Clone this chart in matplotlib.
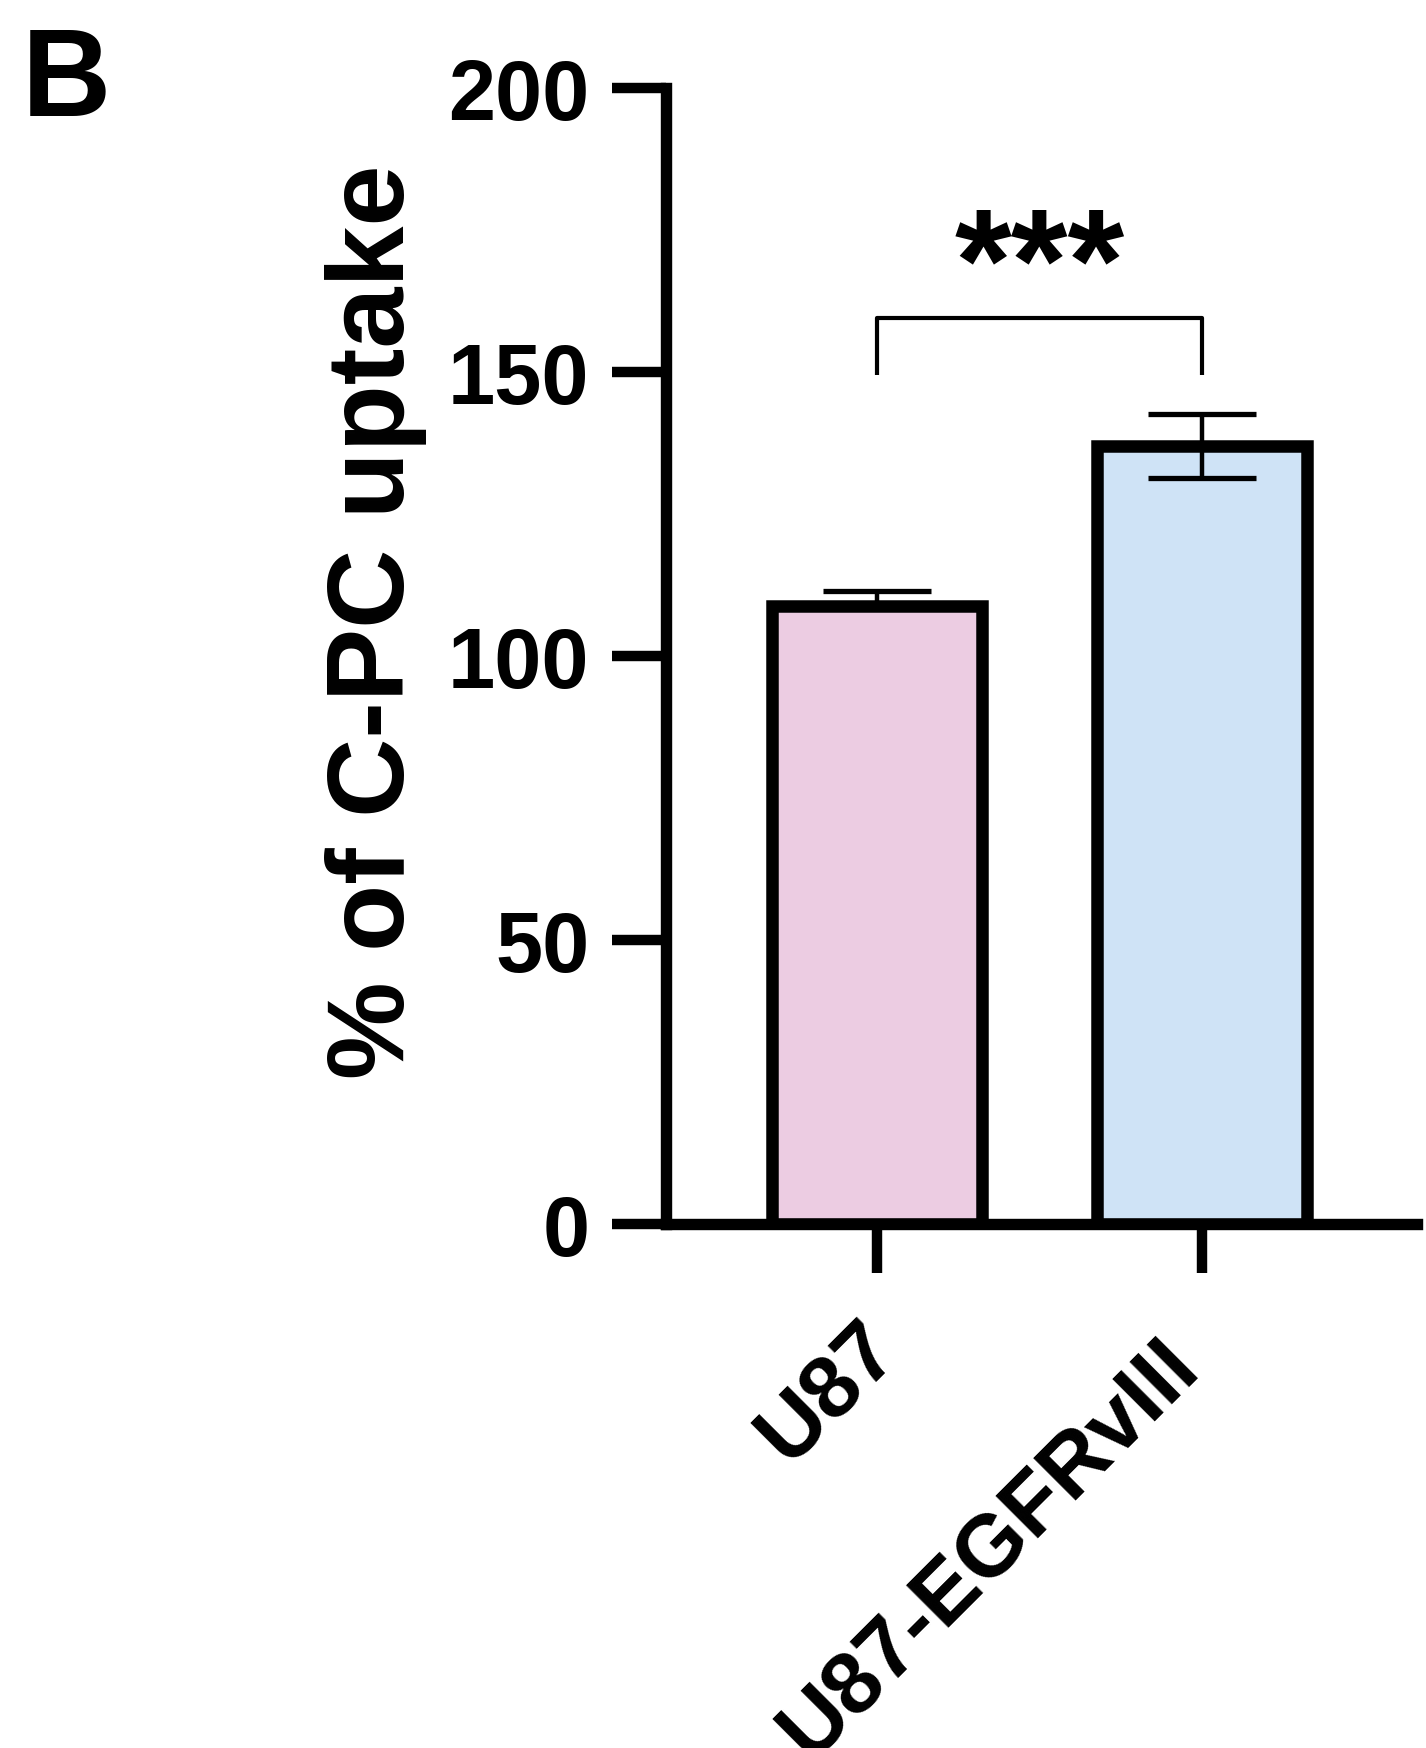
import matplotlib
matplotlib.use("Agg")
import matplotlib.pyplot as plt
from matplotlib.transforms import ScaledTranslation

categories = ["U87", "U87-EGFRvIII"]
means = [108.8, 137.0]
err_lower = [0.0, 5.6]
err_upper = [2.6, 5.6]
bar_colors = ["#ECCCE2", "#CFE3F6"]
yticks = [0, 50, 100, 150, 200]
sig_label = "***"
bracket_y = 159.5
bracket_leg = 149.5

fig = plt.figure(figsize=(14.26, 17.49), dpi=100)
ax = fig.add_axes([0.467, 0.2996, 0.5266, 0.6495])

x = list(range(len(categories)))
ax.bar(x, means, width=0.646, color=bar_colors, edgecolor="black", linewidth=9, zorder=2)
ax.errorbar(x, means, yerr=[err_lower, err_upper], fmt="none", ecolor="black", elinewidth=3.2,
            capsize=39, capthick=3.8, zorder=3)

ax.set_xlim(-0.649, 1.662)
ax.set_ylim(0, 200)
ax.set_yticks(yticks)
ax.set_yticklabels([str(t) for t in yticks], fontfamily="Liberation Sans", fontweight="bold", fontsize=61)
ax.set_xticks(x)
ax.set_xticklabels(categories, rotation=45, ha="right", va="top", rotation_mode="anchor",
                   fontfamily="Liberation Sans", fontweight="bold", fontsize=63)

for s in ["top", "right"]:
    ax.spines[s].set_visible(False)
for s in ["left", "bottom"]:
    ax.spines[s].set_linewidth(8.2)
ax.tick_params(axis="y", length=39, width=7.5, pad=16)
ax.tick_params(axis="x", length=35, width=7.5, pad=0)

# fine placement of the rotated category labels (offsets in pixels at 100 dpi)
label_shift = [(-20, 34), (-45, 51)]
for lab, (dx, dy) in zip(ax.get_xticklabels(), label_shift):
    lab.set_transform(lab.get_transform() + ScaledTranslation(dx / 100, -dy / 100, fig.dpi_scale_trans))

ax.set_ylabel("% of C-PC uptake", fontfamily="Liberation Sans", fontweight="bold", fontsize=79)
ax.yaxis.set_label_coords(-0.3176, 0.5308)

# significance bracket
ax.plot([x[0], x[0], x[1], x[1]], [bracket_leg, bracket_y, bracket_y, bracket_leg],
        color="black", lw=3.0, solid_capstyle="butt", zorder=3, clip_on=False)
ax.text((x[0] + x[1]) / 2, 167.7, sig_label, ha="center", va="center",
        fontfamily="Liberation Sans", fontweight="bold", fontsize=105)

fig.text(0.015, 0.985, "B", ha="left", va="top", fontfamily="Liberation Sans",
         fontweight="bold", fontsize=89)

fig.savefig("out.png", dpi=100)
